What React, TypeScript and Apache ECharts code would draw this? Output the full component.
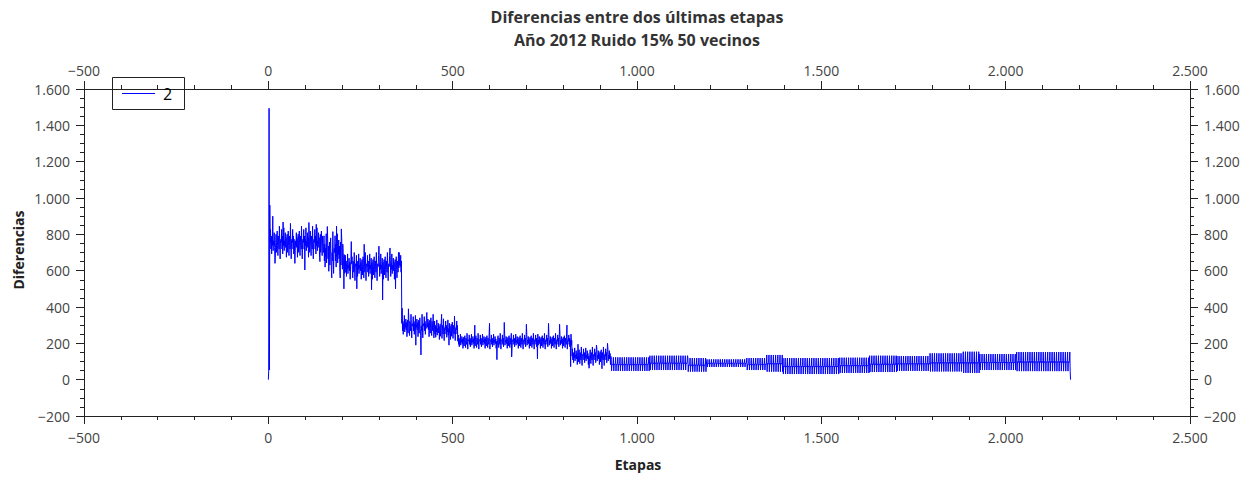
import React, { useEffect, useRef } from "react";
import * as echarts from "echarts";

// ---- Data ----
const titleLines = ["Diferencias entre dos últimas etapas", "Año 2012 Ruido 15% 50 vecinos"];
const xName = "Etapas";
const yName = "Diferencias";
const seriesName = "2";

// first points (start spike)
const startEtapa = [0, 1, 2, 3, 4];
const startValue = [0, 48, 1494, 53, 961];

// segments of the signal: band (low/high) per range of etapas
const segStart = [5, 150, 208, 362, 450, 514, 824, 930, 1035, 1138, 1190, 1298, 1352, 1396, 1550, 1631, 1705, 1795, 1885, 1930, 2030];
const segEnd = [149, 207, 361, 449, 513, 823, 929, 1034, 1137, 1189, 1297, 1351, 1395, 1549, 1630, 1704, 1794, 1884, 1929, 2029, 2175];
const segHigh = [845, 815, 700, 360, 335, 255, 180, 123, 132, 119, 112, 119, 136, 119, 121, 132, 130, 145, 154, 141, 152];
const segLow = [665, 585, 545, 230, 215, 168, 78, 48, 53, 44, 70, 53, 44, 31, 37, 42, 48, 45, 37, 53, 47];
const segNoisy = [1, 1, 1, 1, 1, 1, 1, 0, 0, 0, 0, 0, 0, 0, 0, 0, 0, 0, 0, 0, 0];

// irregular shape of the noisy band (fractions of band, read visually)
const noiseShape = [0.5, 0.9, 0.3, 0.7, 0.15, 0.6, 0.4, 0.95, 0.25, 0.55, 0.45, 0.8, 0.35, 0.65, 0.05, 0.5, 0.75, 0.2, 0.6, 0.85, 0.4, 0.1, 0.7, 0.5, 0.3, 1.0, 0.45, 0.0, 0.55, 0.6];
// regular oscillation shape of the later band
const waveShape = [1, 0, 0.5, 0.5, 0.45, 0.55];

// isolated spikes
const spikeEtapa = [12, 18, 40, 60, 72, 99, 110, 130, 140, 160, 172, 185, 195, 198, 205, 225, 240, 260, 280, 300, 310, 330, 345, 355, 362, 363, 380, 400, 414, 430, 470, 490, 505, 560, 600, 620, 640, 660, 700, 730, 760, 790, 810, 820, 840, 870, 890, 905, 920, 2176];
const spikeValue = [900, 640, 868, 860, 640, 604, 865, 855, 650, 843, 560, 845, 560, 830, 500, 760, 500, 745, 495, 735, 439, 725, 500, 700, 310, 393, 390, 190, 136, 370, 360, 190, 350, 300, 310, 110, 315, 125, 305, 115, 310, 305, 300, 72, 195, 63, 190, 60, 200, 0];

const xTicksMin = -500, xTicksMax = 2500, xStep = 500;
const yTicksMin = -200, yTicksMax = 1600, yStep = 200;

function buildData(): [number, number][] {
  const m = new Map<number, number>();
  startEtapa.forEach((e, i) => m.set(e, startValue[i]));
  segStart.forEach((s, k) => {
    const shape = segNoisy[k] ? noiseShape : waveShape;
    for (let e = s, j = 0; e <= segEnd[k]; e++, j++) {
      const f = shape[j % shape.length];
      m.set(e, segLow[k] + f * (segHigh[k] - segLow[k]));
    }
  });
  spikeEtapa.forEach((e, i) => m.set(e, spikeValue[i]));
  return Array.from(m.entries()).sort((a, b) => a[0] - b[0]);
}

const fmt = (v: number) => {
  const s = Math.abs(v).toString().replace(/\B(?=(\d{3})+(?!\d))/g, ".");
  return v < 0 ? "\u2212" + s : s;
};

const FONT = "Open Sans";

export default function App() {
  const ref = useRef<HTMLDivElement>(null);
  useEffect(() => {
    document.body.style.margin = "0";
    if (!ref.current) return;
    const chart = echarts.init(ref.current, undefined, { renderer: "svg" });
    const axisCommon = {
      type: "value" as const,
      axisLine: { show: true, onZero: false, lineStyle: { color: "#222", width: 1 } },
      axisTick: { show: true, inside: false, length: 8, lineStyle: { color: "#222" } },
      minorTick: { show: true, length: 4, lineStyle: { color: "#222" } },
      splitLine: { show: false },
      axisLabel: { formatter: fmt, color: "#444", fontSize: 14, fontFamily: FONT },
    };
    const xAxis = (pos: "top" | "bottom") => ({
      ...axisCommon,
      position: pos,
      min: xTicksMin,
      max: xTicksMax,
      interval: xStep,
      minorTick: { ...axisCommon.minorTick, splitNumber: 5 },
      axisLabel: { ...axisCommon.axisLabel, margin: pos === "top" ? 12 : 14 },
    });
    const yAxis = (pos: "left" | "right") => ({
      ...axisCommon,
      position: pos,
      min: yTicksMin,
      max: yTicksMax,
      interval: yStep,
      minorTick: { ...axisCommon.minorTick, splitNumber: 4 },
      axisLabel: { ...axisCommon.axisLabel, margin: 14 },
    });
    chart.setOption({
      animation: false,
      grid: { left: 84, right: 64, top: 89, bottom: 61, containLabel: false },
      xAxis: [xAxis("bottom"), xAxis("top")],
      yAxis: [yAxis("left"), yAxis("right")],
      series: [
        {
          name: seriesName,
          type: "line",
          xAxisIndex: 0,
          yAxisIndex: 0,
          data: buildData(),
          symbol: "none",
          lineStyle: { color: "#0000ff", width: 1 },
          itemStyle: { color: "#0000ff" },
        },
      ],
      graphic: [
        {
          type: "text",
          x: 637,
          y: 17,
          style: { text: titleLines[0], fontFamily: FONT, fontWeight: "bold", fontSize: 16, fill: "#333", align: "center", verticalAlign: "middle" },
        },
        {
          type: "text",
          x: 637,
          y: 40,
          style: { text: titleLines[1], fontFamily: FONT, fontWeight: "bold", fontSize: 16, fill: "#333", align: "center", verticalAlign: "middle" },
        },
        {
          type: "text",
          x: 638,
          y: 464,
          style: { text: xName, fontFamily: FONT, fontWeight: "bold", fontSize: 14, fill: "#222", align: "center", verticalAlign: "middle" },
        },
        {
          type: "text",
          x: 18,
          y: 250,
          rotation: Math.PI / 2,
          style: { text: yName, fontFamily: FONT, fontWeight: "bold", fontSize: 14, fill: "#222", align: "center", verticalAlign: "middle" },
        },
        // legend box
        {
          type: "rect",
          shape: { x: 112.5, y: 77.5, width: 72, height: 32 },
          style: { fill: "none", stroke: "#222", lineWidth: 1 },
          z: 100,
        },
        {
          type: "line",
          shape: { x1: 122, y1: 93.5, x2: 155, y2: 93.5 },
          style: { stroke: "#0000ff", lineWidth: 1 },
          z: 100,
        },
        {
          type: "text",
          x: 163,
          y: 94,
          style: { text: seriesName, fontFamily: FONT, fontSize: 16, fill: "#000", align: "left", verticalAlign: "middle" },
          z: 100,
        },
      ],
    });
    return () => chart.dispose();
  }, []);
  return <div ref={ref} style={{ width: 1254, height: 477 }} />;
}
